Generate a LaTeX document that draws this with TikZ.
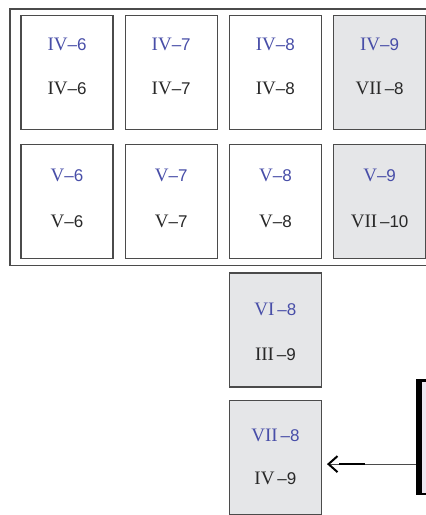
\documentclass[tikz,border=0pt]{standalone}
\usepackage{fontspec}
\setmainfont{Liberation Sans}
\newfontfamily\rnfont[Scale=1.12]{Liberation Serif}
\newcommand{\rnum}[1]{{\rnfont #1}}
\usepackage{tikz}
\usetikzlibrary{arrows.meta}
\usetikzlibrary{positioning}
\definecolor{edgegray}{RGB}{75,75,75}
\definecolor{cellgray}{RGB}{229,230,232}
\definecolor{labelblue}{RGB}{72,78,168}
\definecolor{inkgray}{RGB}{40,40,40}
\definecolor{photolight}{RGB}{236,231,240}
\tikzstyle{cell} = [draw=edgegray, line width=1.2pt, fill=white,
    minimum width=92pt, minimum height=114pt, inner sep=0pt]
\tikzstyle{shaded} = [cell, fill=cellgray]
\tikzstyle{upper} = [text=labelblue, inner sep=0pt]
\tikzstyle{lower} = [text=inkgray, inner sep=0pt]
\tikzstyle{link} = [draw=edgegray, line width=1pt]

\begin{document}
\begin{tikzpicture}[x=1pt, y=-1pt, node distance=11pt,
    every node/.style={font=\fontsize{17}{20}\selectfont}]
    \useasboundingbox (0,0) rectangle (426,515);
    \clip (0,0) rectangle (426,515);

    % The outer frame round the first two rows
    \draw[edgegray, line width=1.2pt] (10,9) rectangle (445,265.5);

    % We start by placing the cells
    \node [cell] (iv6) at (67,72.5) {};
    \node [cell, right=of iv6] (iv7) {};
    \node [cell, right=of iv7] (iv8) {};
    \node [shaded, right=of iv8] (iv9) {};
    \node [cell, below=14pt of iv6] (v6) {};
    \node [cell, below=14pt of iv7] (v7) {};
    \node [cell, below=14pt of iv8] (v8) {};
    \node [shaded, below=14pt of iv9] (v9) {};
    \node [shaded, below=13pt of v8] (vi8) {};
    \node [shaded, below=12.5pt of vi8] (vii8) {};

    % Two labels in each cell
    \node [upper] (iv6a) at ([yshift=-30pt]iv6.north) {\rnum{IV}–6};
    \node [lower] (iv6b) at ([yshift=-74pt]iv6.north) {\rnum{IV}–6};
    \node [upper] (iv7a) at ([yshift=-30pt]iv7.north) {\rnum{IV}–7};
    \node [lower] (iv7b) at ([yshift=-74pt]iv7.north) {\rnum{IV}–7};
    \node [upper] (iv8a) at ([yshift=-30pt]iv8.north) {\rnum{IV}–8};
    \node [lower] (iv8b) at ([yshift=-74pt]iv8.north) {\rnum{IV}–8};
    \node [upper] (iv9a) at ([yshift=-30pt]iv9.north) {\rnum{IV}–9};
    \node [lower] (iv9b) at ([yshift=-74pt]iv9.north) {\rnum{VII}\,–8};
    \node [upper] (v6a) at ([yshift=-31pt]v6.north) {\rnum{V}–6};
    \node [lower] (v6b) at ([yshift=-77pt]v6.north) {\rnum{V}–6};
    \node [upper] (v7a) at ([yshift=-31pt]v7.north) {\rnum{V}–7};
    \node [lower] (v7b) at ([yshift=-77pt]v7.north) {\rnum{V}–7};
    \node [upper] (v8a) at ([yshift=-31pt]v8.north) {\rnum{V}–8};
    \node [lower] (v8b) at ([yshift=-77pt]v8.north) {\rnum{V}–8};
    \node [upper] (v9a) at ([yshift=-31pt]v9.north) {\rnum{V}–9};
    \node [lower] (v9b) at ([yshift=-77pt]v9.north) {\rnum{VII}\,–10};
    \node [upper] (vi8a) at ([yshift=-37pt]vi8.north) {\rnum{VI}\,–8};
    \node [lower] (vi8b) at ([yshift=-82pt]vi8.north) {\rnum{III}\,–9};
    \node [upper] (vii8a) at ([yshift=-35pt]vii8.north) {\rnum{VII}\,–8};
    \node [lower] (vii8b) at ([yshift=-78pt]vii8.north) {\rnum{IV}\,–9};

    % The edge of the photo on the right
    \node [fill=black, minimum width=10pt, minimum height=116pt, inner sep=0pt,
        anchor=north west] (photo) at (416,379) {};
    \fill[photolight] (422,381.5) rectangle (426,492.5);

    % Once the nodes are placed, the arrow is easy
    \coordinate (aim) at ([yshift=-6.5pt]vii8.east);
    \draw [link, shorten >=5pt,
        -{Rectangle[length=26pt,width=2.2pt,color=black,sep=0pt]Straight Barb[length=9pt,width=16pt,line width=2pt,color=black]}]
        (photo.west |- aim) -- (aim);
\end{tikzpicture}
\end{document}
